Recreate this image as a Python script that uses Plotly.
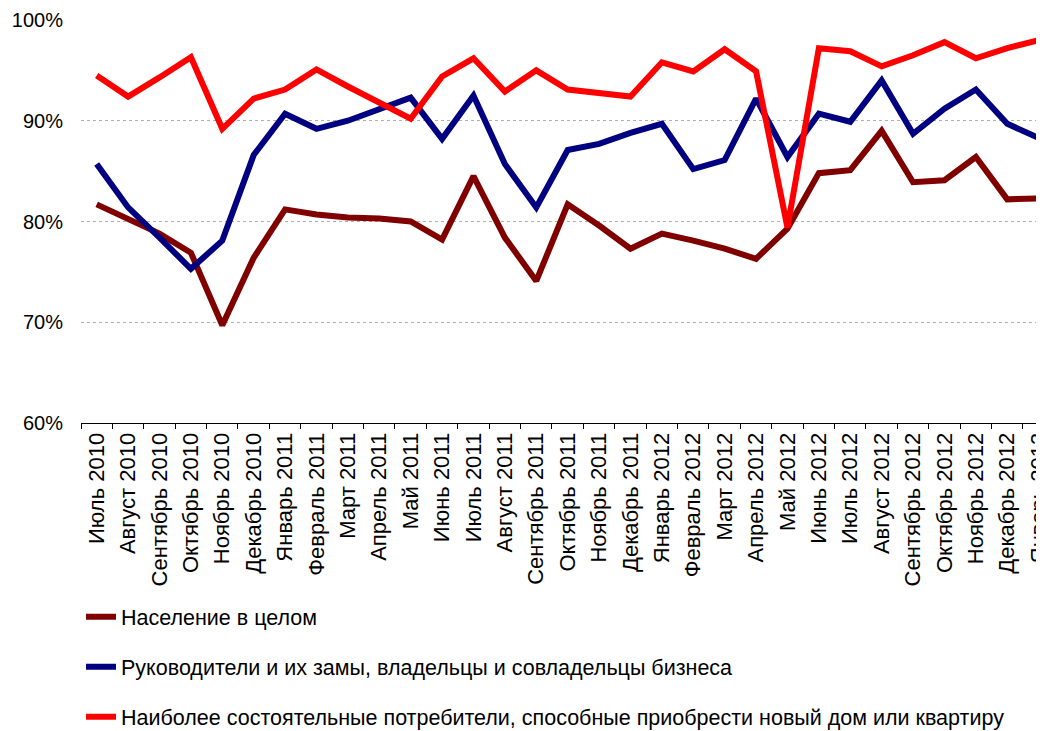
import plotly.graph_objects as go

months = ["Июль 2010", "Август 2010", "Сентябрь 2010", "Октябрь 2010", "Ноябрь 2010", "Декабрь 2010",
          "Январь 2011", "Февраль 2011", "Март 2011", "Апрель 2011", "Май 2011", "Июнь 2011",
          "Июль 2011", "Август 2011", "Сентябрь 2011", "Октябрь 2011", "Ноябрь 2011", "Декабрь 2011",
          "Январь 2012", "Февраль 2012", "Март 2012", "Апрель 2012", "Май 2012", "Июнь 2012",
          "Июль 2012", "Август 2012", "Сентябрь 2012", "Октябрь 2012", "Ноябрь 2012", "Декабрь 2012",
          "Январь 2013"]

population = [81.7, 80.3, 78.8, 76.9, 69.7, 76.4, 81.2, 80.7, 80.4, 80.3, 80.0, 78.2,
              84.5, 78.4, 74.1, 81.7, 79.6, 77.3, 78.8, 78.1, 77.3, 76.3, 79.3, 84.8,
              85.1, 89.0, 83.9, 84.1, 86.4, 82.2, 82.3]

managers = [85.7, 81.4, 78.4, 75.3, 78.1, 86.6, 90.7, 89.2, 90.0, 91.2, 92.3, 88.2,
            92.5, 85.7, 81.4, 87.1, 87.7, 88.8, 89.7, 85.2, 86.1, 92.2, 86.4, 90.7,
            89.9, 94.0, 88.7, 91.2, 93.1, 89.7, 88.3]

wealthy = [94.5, 92.4, 94.3, 96.3, 89.2, 92.2, 93.1, 95.1, 93.4, 91.8, 90.2, 94.4,
           96.2, 92.9, 95.0, 93.1, 92.8, 92.4, 95.8, 94.9, 97.1, 94.9, 79.4, 97.2,
           96.9, 95.4, 96.5, 97.8, 96.2, 97.2, 98.0]

series_names = ["Население в целом",
                "Руководители и их замы, владельцы и совладельцы бизнеса",
                "Наиболее состоятельные потребители, способные приобрести новый дом или квартиру"]
series_colors = ["#800000", "#000080", "#FF0000"]
y_ticks = [60, 70, 80, 90, 100]
y_tick_labels = ["60%", "70%", "80%", "90%", "100%"]

FONT = "Liberation Sans, Arial, sans-serif"

fig = go.Figure()
for i, (name, vals, col) in enumerate(zip(series_names, [population, managers, wealthy], series_colors)):
    fig.add_trace(go.Scatter(
        x=months, y=vals, name=name, mode="lines",
        line=dict(color=col, width=6), legendgroup=f"g{i}",
        hoverinfo="skip"))

# the page body adds an 8px margin, so the figure is sized to fit inside the window
fig.update_layout(
    width=1036, height=723,
    margin=dict(l=73, r=0, t=12, b=308, autoexpand=False),
    paper_bgcolor="white", plot_bgcolor="white",
    font=dict(family=FONT, size=20, color="black"),
    showlegend=True,
    legend=dict(orientation="v", x=0.0, xanchor="left", y=-0.43, yanchor="top",
                font=dict(family=FONT, size=21.5, color="black"),
                tracegroupgap=19, bgcolor="rgba(0,0,0,0)", itemwidth=30),
)

fig.update_xaxes(
    type="category", range=[-0.5, 30.17], automargin=False,
    showline=True, linecolor="black", linewidth=1,
    ticks="outside", tickson="boundaries", ticklen=5, tickcolor="black",
    tickangle=-90, showgrid=False,
    tickfont=dict(family=FONT, size=22, color="black"),
)

fig.update_yaxes(
    range=[60, 100], tickvals=y_ticks, ticktext=y_tick_labels, automargin=False,
    showgrid=True, gridcolor="#b0b0b0", gridwidth=1, griddash="dot",
    showline=False, zeroline=False, ticks="", ticklabelstandoff=17,
    tickfont=dict(family=FONT, size=20, color="black"),
)

fig.write_html("out.html")
